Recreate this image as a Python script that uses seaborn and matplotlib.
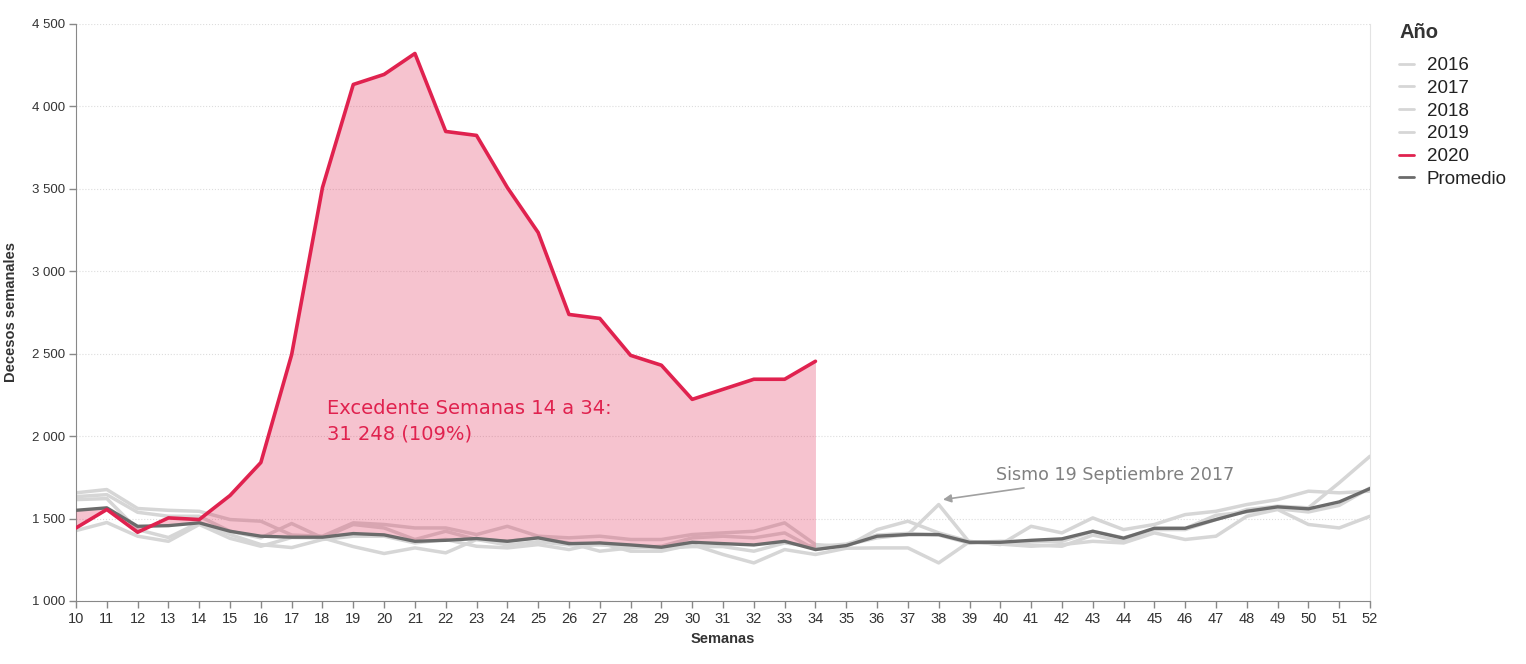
import numpy as np
import pandas as pd
import matplotlib
matplotlib.use('Agg')
import matplotlib.pyplot as plt
import seaborn as sns
from matplotlib.lines import Line2D
from matplotlib.ticker import FuncFormatter

# weekly deaths, weeks 10..52
semanas = list(range(10, 53))

d2016 = [1656, 1676, 1561, 1550, 1544, 1494, 1484, 1400, 1393, 1474, 1464, 1443, 1443, 1403,
         1453, 1393, 1383, 1393, 1373, 1373, 1403, 1413, 1423, 1474, 1342, 1330, 1433, 1484,
         1413, 1362, 1342, 1453, 1413, 1504, 1433, 1464, 1524, 1544, 1585, 1615, 1666, 1656, 1666]
d2017 = [1633, 1645, 1538, 1514, 1514, 1423, 1383, 1470, 1383, 1464, 1443, 1373, 1423, 1373,
         1362, 1383, 1352, 1302, 1322, 1332, 1383, 1393, 1383, 1413, 1312, 1340, 1383, 1403,
         1585, 1355, 1362, 1362, 1362, 1423, 1383, 1433, 1433, 1494, 1555, 1575, 1565, 1717, 1878]
d2018 = [1615, 1621, 1433, 1385, 1476, 1403, 1342, 1324, 1373, 1393, 1393, 1352, 1373, 1332,
         1322, 1342, 1312, 1352, 1302, 1302, 1342, 1282, 1231, 1312, 1282, 1320, 1322, 1322,
         1231, 1360, 1345, 1332, 1342, 1362, 1352, 1413, 1373, 1393, 1514, 1555, 1464, 1443, 1514]
d2019 = [1427, 1476, 1393, 1362, 1464, 1380, 1332, 1385, 1383, 1330, 1288, 1322, 1292, 1373,
         1340, 1360, 1340, 1340, 1330, 1320, 1330, 1330, 1302, 1352, 1330, 1345, 1400, 1410,
         1400, 1350, 1360, 1340, 1332, 1400, 1360, 1440, 1440, 1520, 1540, 1560, 1540, 1580, 1686]
promedio = [1550, 1565, 1453, 1457, 1474, 1423, 1393, 1387, 1387, 1409, 1401, 1362, 1368, 1379,
            1362, 1383, 1348, 1352, 1340, 1326, 1356, 1348, 1340, 1362, 1312, 1336, 1393, 1403,
            1403, 1356, 1356, 1368, 1377, 1423, 1381, 1441, 1441, 1494, 1544, 1571, 1559, 1601, 1682]

# 2020 only up to week 34
semanas_2020 = list(range(10, 35))
d2020 = [1443, 1555, 1417, 1504, 1494, 1640, 1840, 2495, 3508, 4133, 4194, 4321, 3848, 3824,
         3508, 3235, 2738, 2714, 2490, 2430, 2223, 2284, 2345, 2345, 2454]

rojo = '#e0224f'
gris = '#d6d6d6'
gris_osc = '#6b6b6b'

sns.set_style('ticks')
plt.rcParams['font.family'] = ['Liberation Sans', 'DejaVu Sans']

fig = plt.figure(figsize=(15.26, 6.64), dpi=100)
ax = fig.add_axes([0.0498, 0.0949, 0.848, 0.869])

for serie in [d2016, d2017, d2018, d2019]:
    sns.lineplot(x=semanas, y=serie, color=gris, linewidth=2.5, ax=ax, zorder=2)

# excess area between 2020 and the average
prom_34 = promedio[:len(semanas_2020)]
ax.fill_between(semanas_2020, prom_34, d2020, color=rojo, alpha=0.27, linewidth=0, zorder=3)

sns.lineplot(x=semanas, y=promedio, color=gris_osc, linewidth=2.4, ax=ax, zorder=4)
sns.lineplot(x=semanas_2020, y=d2020, color=rojo, linewidth=2.6, ax=ax, zorder=5)

ax.set_xlim(10, 52)
ax.set_ylim(1000, 4500)
ax.set_xticks(semanas)
ax.set_yticks(range(1000, 4501, 500))
ax.yaxis.set_major_formatter(FuncFormatter(lambda v, p: f'{int(v):,}'.replace(',', ' ')))
ax.tick_params(axis='x', labelsize=10.5, colors='#333333', length=5, width=1, color='#888888', pad=3)
ax.tick_params(axis='y', labelsize=9.5, colors='#333333', length=5, width=1, color='#888888', pad=3)
ax.grid(axis='y', color='#dddddd', linewidth=0.8, linestyle=':')
ax.set_axisbelow(True)
ax.spines['top'].set_visible(False)
ax.spines['left'].set_color('#888888')
ax.spines['bottom'].set_color('#888888')
ax.spines['right'].set_visible(True)
ax.spines['right'].set_color('#e3e3e3')

ax.set_xlabel('Semanas', fontsize=10.5, fontweight='bold', color='#333333', labelpad=4)
ax.set_ylabel('Decesos semanales', fontsize=10.5, fontweight='bold', color='#333333', labelpad=10)

ax.text(18.15, 2225, 'Excedente Semanas 14 a 34:\n31 248 (109%)', color=rojo,
        fontsize=14, va='top', ha='left', family='DejaVu Sans', linespacing=1.45, zorder=6)
ax.annotate('Sismo 19 Septiembre 2017', xy=(38.14, 1615), xytext=(39.85, 1765),
            color='#808080', fontsize=12.6, family='DejaVu Sans', va='center', ha='left',
            arrowprops=dict(arrowstyle='-|>', color='#a0a0a0', lw=1.2, mutation_scale=12,
                            shrinkA=4, shrinkB=0))

# legend
fig.text(1400 / 1526, 1 - 33 / 664, 'Año', fontsize=14.5, fontweight='bold', color='#333333',
         va='center', ha='left')
handles = [Line2D([], [], color=gris, lw=2) for _ in range(4)]
handles += [Line2D([], [], color=rojo, lw=2), Line2D([], [], color=gris_osc, lw=2)]
labels = ['2016', '2017', '2018', '2019', '2020', 'Promedio']
leg = fig.legend(handles, labels, loc='upper left', bbox_to_anchor=(0.908, 1 - 44 / 664),
                 frameon=False, fontsize=13.5, handlelength=0.8, borderpad=0.2,
                 handletextpad=0.7, labelspacing=0.3)
for t in leg.get_texts():
    t.set_color('#222222')

fig.savefig('out.png', dpi=100)
